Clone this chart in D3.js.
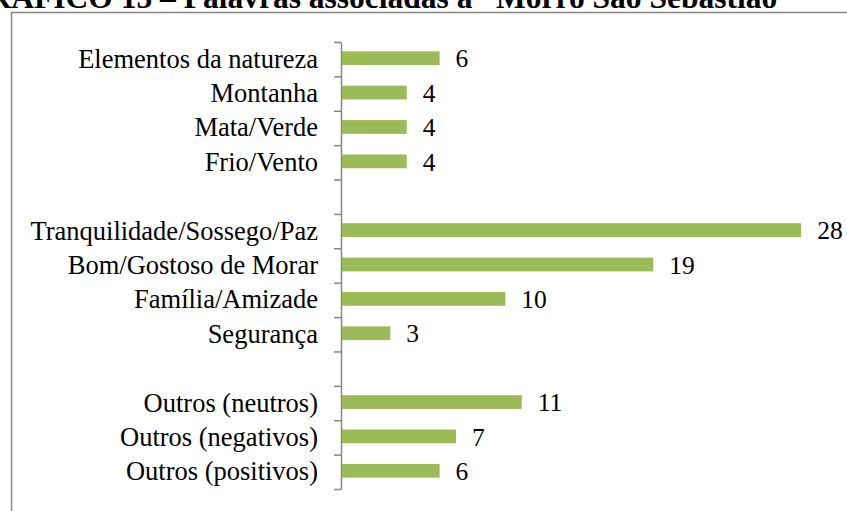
<!DOCTYPE html>
<html>
<head>
<meta charset="utf-8">
<script src="https://cdn.jsdelivr.net/npm/d3@7"></script>
<style>
  html, body { margin: 0; padding: 0; background: #fff; }
  svg { display: block; }
  text { font-family: "Liberation Serif", "Times New Roman", serif; fill: #000; }
</style>
</head>
<body>
<div id="chart"></div>
<script>
// slots from top to bottom; empty strings are the gaps between groups
const categories = [
  "Elementos da natureza", "Montanha", "Mata/Verde", "Frio/Vento", "",
  "Tranquilidade/Sossego/Paz", "Bom/Gostoso de Morar", "Família/Amizade", "Segurança", "",
  "Outros (neutros)", "Outros (negativos)", "Outros (positivos)"
];
const values = [6, 4, 4, 4, null, 28, 19, 10, 3, null, 11, 7, 6];
const title = "GRÁFICO 15 – Palavras associadas a “Morro São Sebastião”";

const W = 847, H = 511;
const axisX = 341, plotTop = 42, plotBottom = 489;

const svg = d3.select('#chart').append('svg')
  .attr('width', W)
  .attr('height', H);

svg.append('rect').attr('width', W).attr('height', H).attr('fill', '#fff');

// frame of the chart area (cropped on right and bottom)
svg.append('rect')
  .attr('x', 11.5).attr('y', 12.5)
  .attr('width', 1000).attr('height', 1000)
  .attr('fill', 'none')
  .attr('stroke', '#868686')
  .attr('stroke-width', 1.5);

// title, clipped by the top of the page
svg.append('text')
  .attr('x', 793).attr('y', 7.5)
  .attr('text-anchor', 'end')
  .attr('font-weight', 'bold')
  .attr('font-size', 31.5)
  .text(title);

const keys = categories.map((c, i) => i);
const y = d3.scaleBand().domain(keys).range([plotTop, plotBottom]).padding(0);
const x = d3.scaleLinear().domain([0, 30]).range([axisX, 834]);

// axis with ticks between categories
const yTicks = d3.scaleLinear().domain([0, categories.length]).range([plotTop, plotBottom]);
const axis = svg.append('g')
  .attr('transform', `translate(${axisX},0)`)
  .call(d3.axisLeft(yTicks).tickValues(d3.range(categories.length + 1))
    .tickSize(7).tickSizeOuter(0).tickFormat(''));
axis.selectAll('path, line').attr('stroke', '#868686').attr('stroke-width', 1.5);

const barH = y.bandwidth() * 0.4;
const data = keys.map(i => ({ i, label: categories[i], value: values[i] }));

svg.append('g').selectAll('rect')
  .data(data.filter(d => d.value != null))
  .join('rect')
  .attr('x', x(0) + 1)
  .attr('y', d => y(d.i) + y.bandwidth() / 2 - barH / 2 - 1)
  .attr('width', d => x(d.value) - x(0) - 1)
  .attr('height', barH)
  .attr('fill', '#9BBB59');

svg.append('g').selectAll('text')
  .data(data.filter(d => d.label))
  .join('text')
  .attr('x', 318)
  .attr('y', d => y(d.i) + y.bandwidth() / 2)
  .attr('dy', '0.32em')
  .attr('text-anchor', 'end')
  .attr('font-size', 26.5)
  .text(d => d.label);

svg.append('g').selectAll('text')
  .data(data.filter(d => d.value != null))
  .join('text')
  .attr('x', d => x(d.value) + 16)
  .attr('y', d => y(d.i) + y.bandwidth() / 2)
  .attr('dy', '0.32em')
  .attr('font-size', 25.5)
  .text(d => d.value);
</script>
</body>
</html>
